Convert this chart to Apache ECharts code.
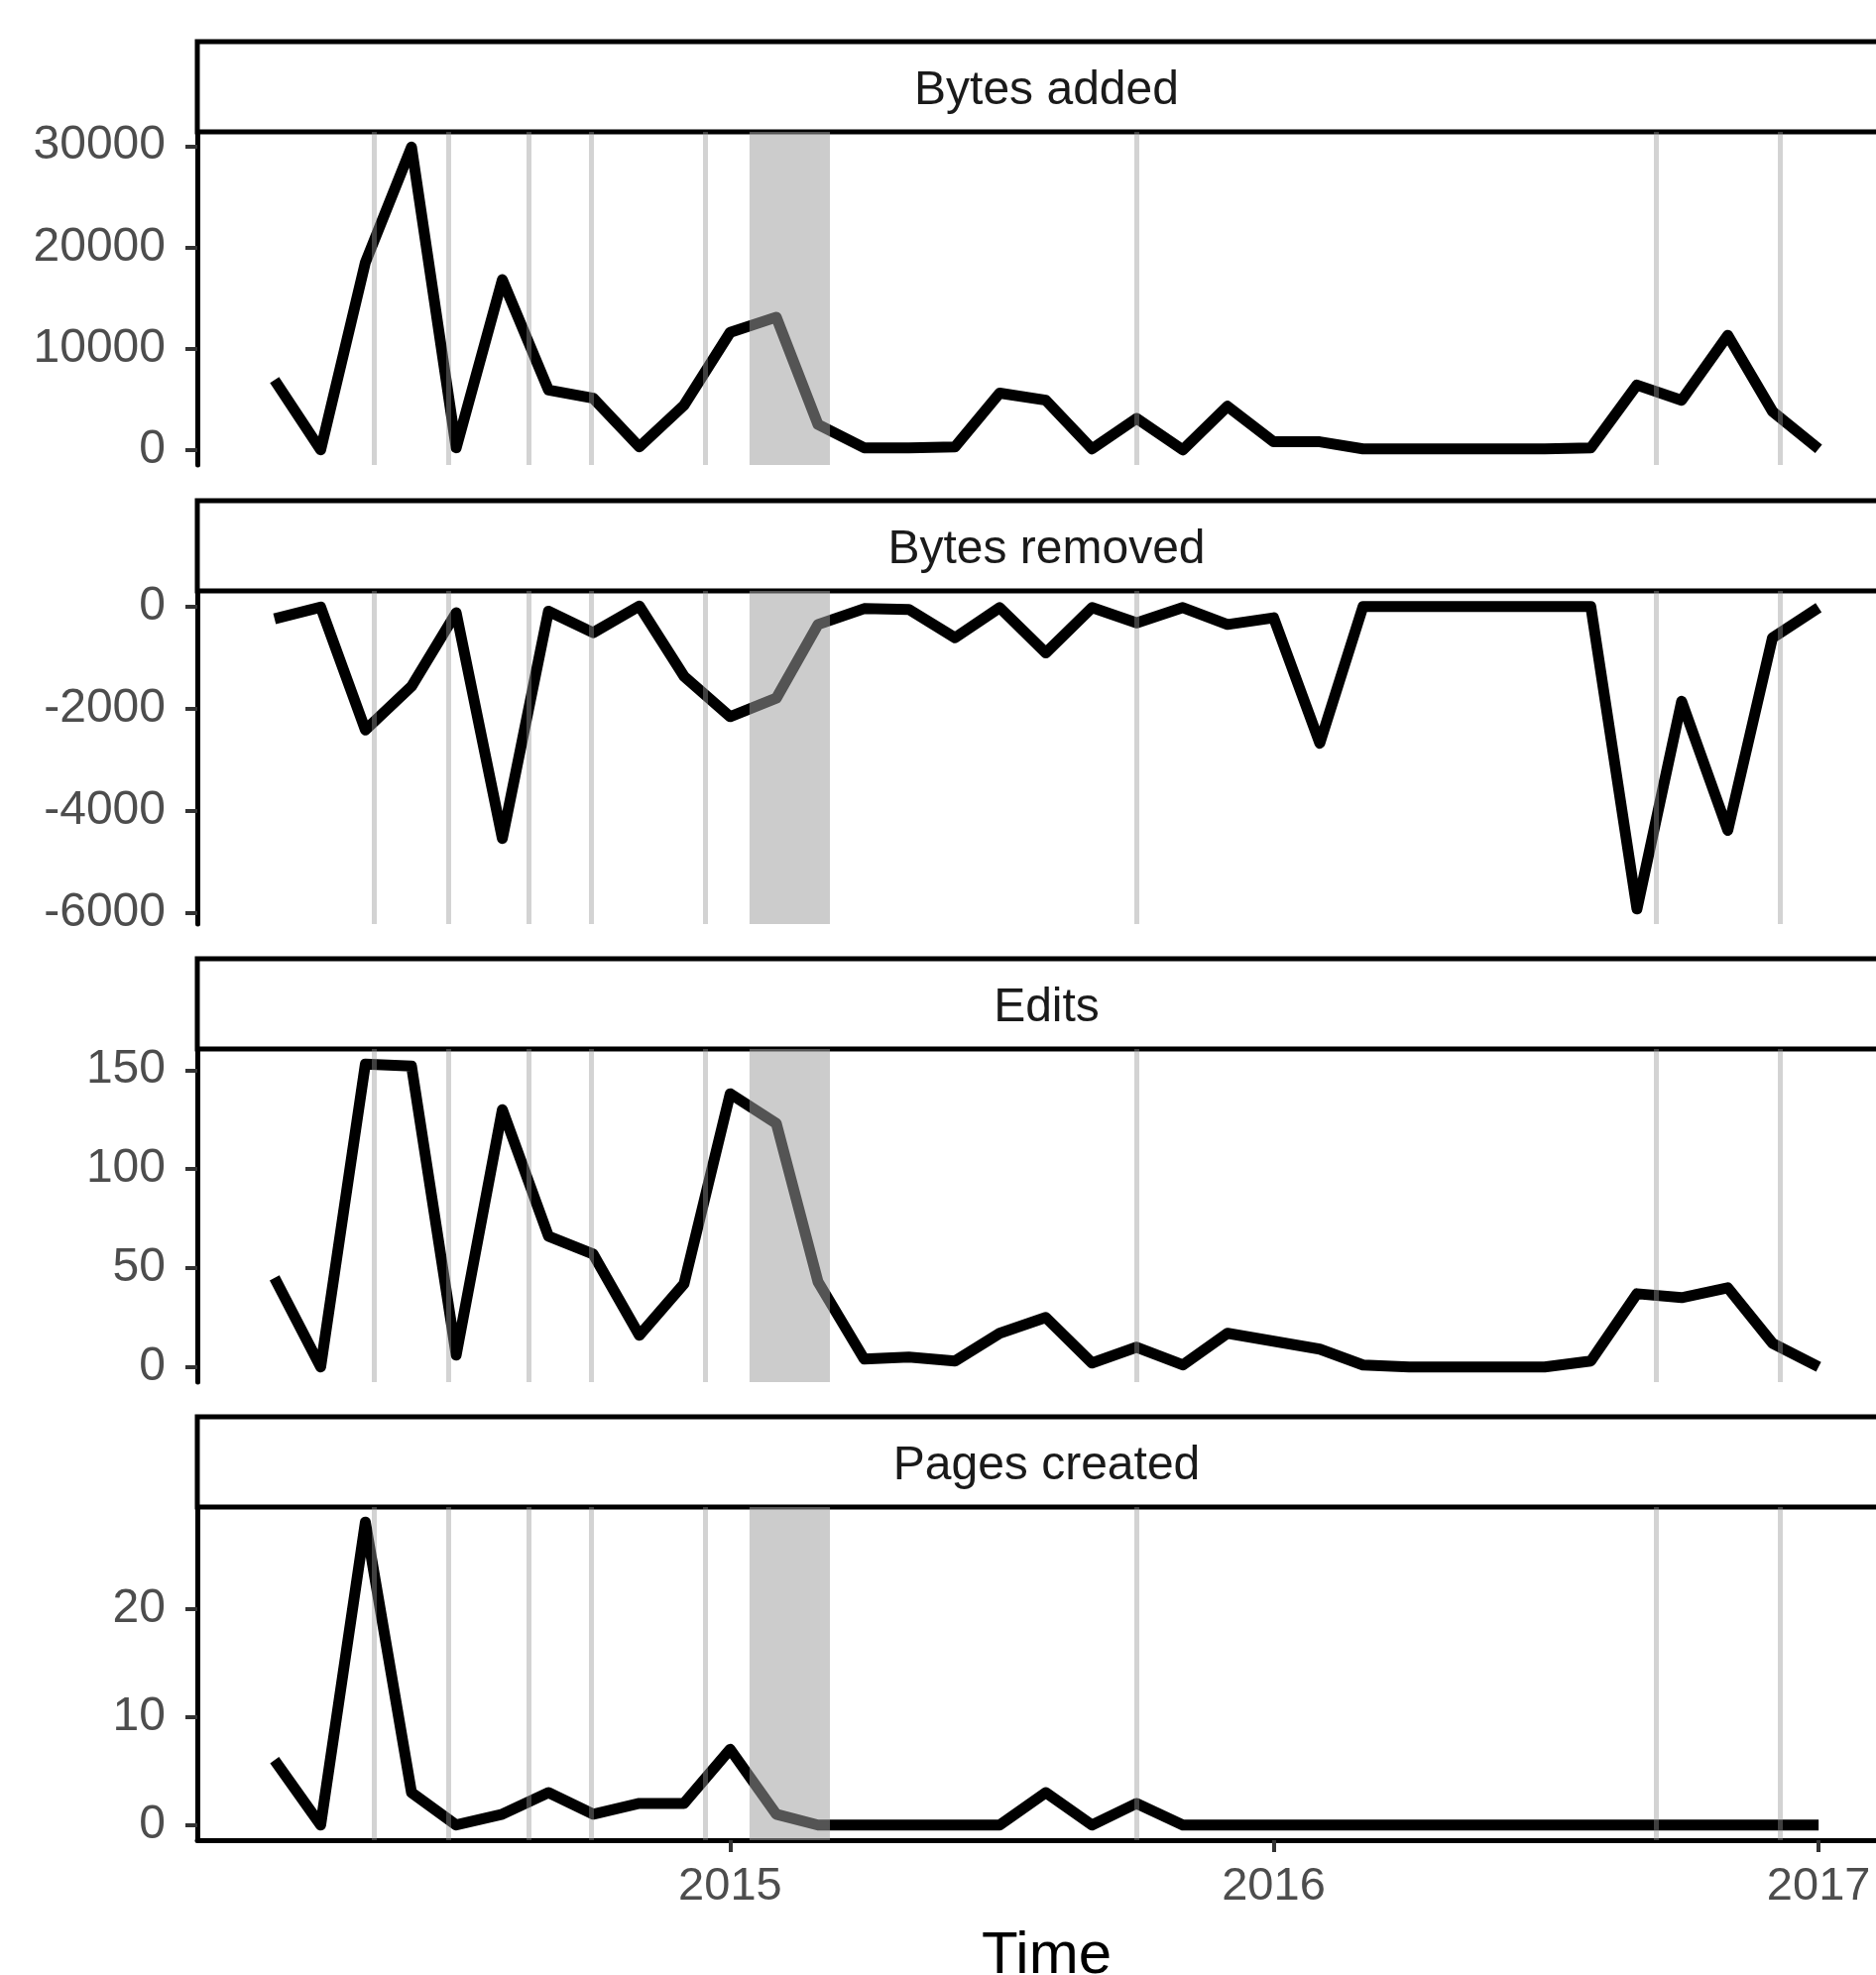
<!DOCTYPE html>
<html>
<head>
<meta charset="utf-8">
<title>Monthly activity</title>
<script src="https://cdn.jsdelivr.net/npm/echarts@6/dist/echarts.min.js"></script>
<style>
  html, body { margin: 0; padding: 0; background: #fff; }
  #chart { width: 1892px; height: 1992px; }
</style>
</head>
<body>
<div id="chart"></div>
<script>
// monthly observations
const months = [
  '2014-03-01', '2014-04-01', '2014-05-01', '2014-06-01', '2014-07-01', '2014-08-01', '2014-09-01',
  '2014-10-01', '2014-11-01', '2014-12-01', '2015-01-01', '2015-02-01', '2015-03-01', '2015-04-01',
  '2015-05-01', '2015-06-01', '2015-07-01', '2015-08-01', '2015-09-01', '2015-10-01', '2015-11-01',
  '2015-12-01', '2016-01-01', '2016-02-01', '2016-03-01', '2016-04-01', '2016-05-01', '2016-06-01',
  '2016-07-01', '2016-08-01', '2016-09-01', '2016-10-01', '2016-11-01', '2016-12-01', '2017-01-01'
];

const bytesAdded = [
  6900, 0, 18500, 29900, 200, 16800, 5900, 5100, 300, 4400, 11600, 13100, 2500, 200, 200, 300,
  5600, 4900, 100, 3100, 0, 4300, 800, 800, 100, 100, 100, 100, 100, 200, 6400, 4900, 11300, 3800, 100
];
const bytesRemoved = [
  -250, -20, -2420, -1570, -130, -4540, -100, -520, 0, -1370, -2160, -1800, -360, -50, -65, -620,
  -30, -915, -30, -330, -30, -360, -230, -2680, -10, -10, -10, -10, -10, -10, -5915, -1860, -4380, -620, -30
];
const edits = [
  45, 0, 153, 152, 6, 130, 66, 57, 16, 42, 138, 123, 43, 4, 5, 3,
  17, 25, 2, 10, 1, 17, 13, 9, 1, 0, 0, 0, 0, 3, 37, 35, 40, 12, 0
];
const pagesCreated = [
  6, 0, 28, 3, 0, 1, 3, 1, 2, 2, 7, 1, 0, 0, 0, 0,
  0, 3, 0, 2, 0, 0, 0, 0, 0, 0, 0, 0, 0, 0, 0, 0, 0, 0, 0
];

// events (vertical lines) and the shaded period
const eventDates = [
  '2014-05-07', '2014-06-26', '2014-08-19', '2014-09-30', '2014-12-15',
  '2015-10-01', '2016-09-14', '2016-12-06'
];
const shadeStart = '2015-01-14';
const shadeEnd = '2015-03-09';

const panelTitles = ['Bytes added', 'Bytes removed', 'Edits', 'Pages created'];
const panelSeries = [bytesAdded, bytesRemoved, edits, pagesCreated];
const yTicks = [
  [0, 10000, 20000, 30000],
  [-6000, -4000, -2000, 0],
  [0, 50, 100, 150],
  [0, 10, 20]
];
const yearTicks = ['2015-01-01', '2016-01-01', '2017-01-01'];
const yearLabels = ['2015', '2016', '2017'];

// layout
const FONT = '"Liberation Sans", Arial, Helvetica, sans-serif';
const PLOT_LEFT = 199;
const PLOT_WIDTH = 1713;
const PLOT_TOPS = [133, 596, 1058, 1520];
const PLOT_H = 336;
const STRIP_H = 91;

const ts = s => Date.parse(s + 'T00:00:00Z');

// ggplot-style 5% expansion
const expand = (lo, hi) => {
  const pad = (hi - lo) * 0.05;
  return [lo - pad, hi + pad];
};

const xRange = expand(ts(months[0]), ts(months[months.length - 1]));
const yearTickValues = yearTicks.map(ts);

const chart = echarts.init(document.getElementById('chart'));

const grids = [], xAxes = [], yAxes = [], series = [], graphics = [];

panelSeries.forEach((values, i) => {
  const top = PLOT_TOPS[i];
  const isBottom = i === panelSeries.length - 1;
  const yr = expand(Math.min(...values), Math.max(...values));

  grids.push({
    left: PLOT_LEFT, width: PLOT_WIDTH, top: top, height: PLOT_H,
    outerBoundsMode: 'none'
  });

  // dates are plotted as timestamps on a value axis
  xAxes.push({
    type: 'value',
    gridIndex: i,
    min: xRange[0],
    max: xRange[1],
    splitLine: { show: false },
    axisLine: {
      show: isBottom, onZero: false,
      lineStyle: { color: '#000', width: 5 }
    },
    axisTick: {
      show: isBottom, length: 12,
      customValues: yearTickValues,
      lineStyle: { color: '#333', width: 4 }
    },
    axisLabel: {
      show: isBottom,
      customValues: yearTickValues,
      formatter: v => {
        const k = yearTickValues.indexOf(v);
        return k >= 0 ? yearLabels[k] : String(new Date(v).getUTCFullYear());
      },
      fontFamily: FONT, fontSize: 47, color: '#4d4d4d', margin: 24
    },
    name: isBottom ? 'Time' : '',
    nameLocation: 'middle',
    nameGap: 87,
    nameTextStyle: { fontFamily: FONT, fontSize: 60, color: '#000' }
  });

  yAxes.push({
    type: 'value',
    gridIndex: i,
    min: yr[0],
    max: yr[1],
    splitLine: { show: false },
    axisLine: { show: true, onZero: false, lineStyle: { color: '#000', width: 5 } },
    axisTick: {
      show: true, length: 12,
      customValues: yTicks[i],
      lineStyle: { color: '#333', width: 4 }
    },
    axisLabel: {
      customValues: yTicks[i],
      formatter: v => String(v),
      fontFamily: FONT, fontSize: 48, color: '#4d4d4d', margin: 32
    }
  });

  series.push({
    type: 'line',
    xAxisIndex: i,
    yAxisIndex: i,
    data: months.map((m, k) => [ts(m), values[k]]),
    showSymbol: false,
    lineStyle: { color: '#000', width: 11, cap: 'butt', join: 'round' },
    markLine: {
      silent: true,
      symbol: ['none', 'none'],
      label: { show: false },
      lineStyle: { color: 'rgba(150,150,150,0.42)', width: 5, type: 'solid' },
      data: eventDates.map(d => ({ xAxis: ts(d) }))
    },
    markArea: {
      silent: true,
      z: 5,
      itemStyle: { color: 'rgba(159,159,159,0.53)' },
      data: [[{ xAxis: ts(shadeStart) }, { xAxis: ts(shadeEnd) }]]
    }
  });

  // facet strip
  graphics.push({
    type: 'rect',
    shape: { x: PLOT_LEFT, y: top - STRIP_H, width: PLOT_WIDTH, height: STRIP_H },
    style: { fill: '#fff', stroke: '#000', lineWidth: 5 }
  });
  graphics.push({
    type: 'text',
    style: {
      text: panelTitles[i],
      x: PLOT_LEFT + PLOT_WIDTH / 2,
      y: top - STRIP_H / 2 + 4,
      align: 'center',
      verticalAlign: 'middle',
      font: '48px ' + FONT,
      fill: '#1a1a1a'
    }
  });
});

chart.setOption({
  animation: false,
  backgroundColor: '#fff',
  textStyle: { fontFamily: FONT },
  grid: grids,
  xAxis: xAxes,
  yAxis: yAxes,
  series: series,
  graphic: graphics
});

window.addEventListener('resize', () => chart.resize());
</script>
</body>
</html>
